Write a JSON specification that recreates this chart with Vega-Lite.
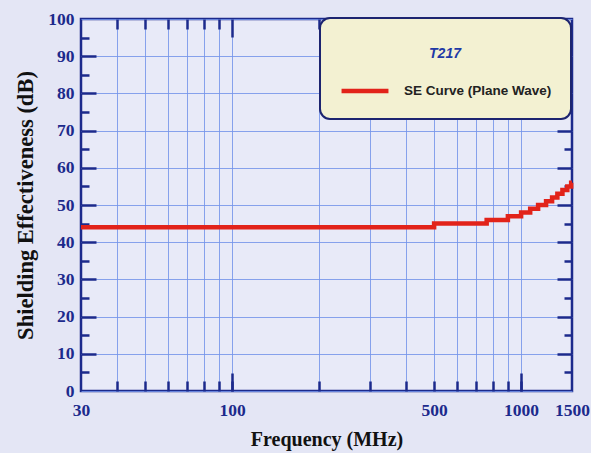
{
  "$schema": "https://vega.github.io/schema/vega-lite/v6.json",
  "width": 491,
  "height": 372,
  "autosize": "none",
  "padding": {"left": 81, "top": 19, "right": 19, "bottom": 62},
  "background": "#e4e6f5",
  "config": {
    "view": {"stroke": "#1c2a8c", "strokeWidth": 2.5, "fill": "#e8eaf8"},
    "axis": {
      "labelFont": "Liberation Serif",
      "labelFontWeight": "bold",
      "labelFontSize": 17.5,
      "labelColor": "#1c2a8c",
      "titleFont": "Liberation Serif",
      "titleFontSize": 20,
      "titleFontWeight": "bold",
      "titleColor": "#111111",
      "tickColor": "#1c2a8c",
      "tickWidth": 2.5,
      "gridColor": "#7494ea",
      "gridWidth": 1,
      "gridOpacity": 0.85,
      "domain": false,
      "labelFlush": false,
      "labelOverlap": false,
      "format": "d"
    }
  },
  "data": {
    "values": [
      {"f": 30, "se": 44, "series": "SE Curve (Plane Wave)"},
      {"f": 500, "se": 45, "series": "SE Curve (Plane Wave)"},
      {"f": 760, "se": 46, "series": "SE Curve (Plane Wave)"},
      {"f": 900, "se": 47, "series": "SE Curve (Plane Wave)"},
      {"f": 1000, "se": 48, "series": "SE Curve (Plane Wave)"},
      {"f": 1075, "se": 49, "series": "SE Curve (Plane Wave)"},
      {"f": 1145, "se": 50, "series": "SE Curve (Plane Wave)"},
      {"f": 1220, "se": 51, "series": "SE Curve (Plane Wave)"},
      {"f": 1280, "se": 52, "series": "SE Curve (Plane Wave)"},
      {"f": 1335, "se": 53, "series": "SE Curve (Plane Wave)"},
      {"f": 1390, "se": 54, "series": "SE Curve (Plane Wave)"},
      {"f": 1445, "se": 55, "series": "SE Curve (Plane Wave)"},
      {"f": 1490, "se": 56, "series": "SE Curve (Plane Wave)"},
      {"f": 1500, "se": 56, "series": "SE Curve (Plane Wave)"}
    ]
  },
  "layer": [
    {
      "mark": {"type": "line", "opacity": 0},
      "encoding": {
        "x": {
          "field": "f", "type": "quantitative",
          "scale": {"type": "log", "domain": [30, 1500]},
          "axis": {"orient": "bottom", "title": null, "labels": false, "grid": true,
            "values": [40, 50, 60, 70, 80, 90, 100, 200, 300, 400, 500, 600, 700, 800, 900, 1000],
            "tickSize": -10}
        },
        "y": {
          "field": "se", "type": "quantitative",
          "scale": {"domain": [0, 100]},
          "axis": {"orient": "right", "title": null, "labels": false, "grid": false,
            "values": [10, 20, 30, 40, 50, 60, 70, 80, 90], "tickSize": -15}
        }
      }
    },
    {
      "mark": {"type": "line", "opacity": 0},
      "encoding": {
        "x": {
          "field": "f", "type": "quantitative",
          "scale": {"type": "log", "domain": [30, 1500]},
          "axis": {"orient": "top", "title": null, "labels": false, "grid": false,
            "values": [40, 50, 60, 70, 80, 90, 200, 300, 400, 500, 600, 700, 800, 900],
            "tickSize": -10}
        },
        "y": {
          "field": "se", "type": "quantitative",
          "scale": {"domain": [0, 100]},
          "axis": {"orient": "left", "title": null, "labels": false, "grid": false,
            "values": [5, 15, 25, 35, 45, 55, 65, 75, 85, 95], "tickSize": -8}
        }
      }
    },
    {
      "mark": {"type": "line", "opacity": 0},
      "encoding": {
        "x": {
          "field": "f", "type": "quantitative",
          "scale": {"type": "log", "domain": [30, 1500]},
          "axis": {"orient": "bottom", "title": null, "labels": false, "grid": false,
            "values": [100, 1000], "tickSize": -18}
        },
        "y": {
          "field": "se", "type": "quantitative",
          "scale": {"domain": [0, 100]},
          "axis": {"orient": "right", "title": null, "labels": false, "grid": false,
            "values": [5, 15, 25, 35, 45, 55, 65, 75, 85, 95], "tickSize": -8}
        }
      }
    },
    {
      "mark": {"type": "line", "opacity": 0},
      "encoding": {
        "x": {
          "field": "f", "type": "quantitative",
          "scale": {"type": "log", "domain": [30, 1500]},
          "axis": {"orient": "top", "title": null, "labels": false, "grid": false,
            "values": [100, 1000], "tickSize": -18}
        },
        "y": {
          "field": "se", "type": "quantitative",
          "scale": {"domain": [0, 100]},
          "axis": {"orient": "left", "title": null, "labels": false, "grid": false,
            "values": [10, 20, 30, 40, 50, 60, 70, 80, 90], "tickSize": -15}
        }
      }
    },
    {
      "mark": {"type": "line", "interpolate": "step-after", "strokeWidth": 4.5},
      "encoding": {
        "x": {
          "field": "f", "type": "quantitative",
          "scale": {"type": "log", "domain": [30, 1500]},
          "axis": {
            "orient": "bottom",
            "title": "Frequency (MHz)",
            "values": [30, 100, 500, 1000, 1500],
            "ticks": false,
            "grid": false,
            "labelPadding": 10,
            "titlePadding": 11
          }
        },
        "y": {
          "field": "se", "type": "quantitative",
          "scale": {"domain": [0, 100]},
          "axis": {
            "orient": "left",
            "title": "Shielding  Effectiveness (dB)",
            "titleFontSize": 22.5,
            "values": [0, 10, 20, 30, 40, 50, 60, 70, 80, 90, 100],
            "ticks": false,
            "grid": true,
            "labelPadding": 7,
            "titlePadding": 10
          }
        },
        "color": {
          "field": "series",
          "type": "nominal",
          "scale": {"range": ["#e2231a"]},
          "legend": {
            "title": ["", "T217"],
            "orient": "none",
            "legendX": 239,
            "legendY": -1,
            "padding": 19,
            "fillColor": "#f3f1d2",
            "strokeColor": "#1c2470",
            "cornerRadius": 10,
            "titleFont": "Liberation Sans",
            "titleFontStyle": "italic",
            "titleFontWeight": "bold",
            "titleFontSize": 14,
            "titleLineHeight": 10,
            "titleColor": "#1f3aa6",
            "titleAnchor": "middle",
            "titleAlign": "center",
            "titlePadding": 4,
            "symbolType": "stroke",
            "symbolSize": 2200,
            "symbolStrokeWidth": 4.5,
            "labelFont": "Liberation Sans",
            "labelFontWeight": "bold",
            "labelFontSize": 13.5,
            "labelColor": "#222222",
            "labelOffset": 13,
            "encode": {"legend": {"update": {"strokeWidth": {"value": 2}}}}
          }
        }
      }
    }
  ],
  "resolve": {"axis": {"x": "independent", "y": "independent"}}
}
